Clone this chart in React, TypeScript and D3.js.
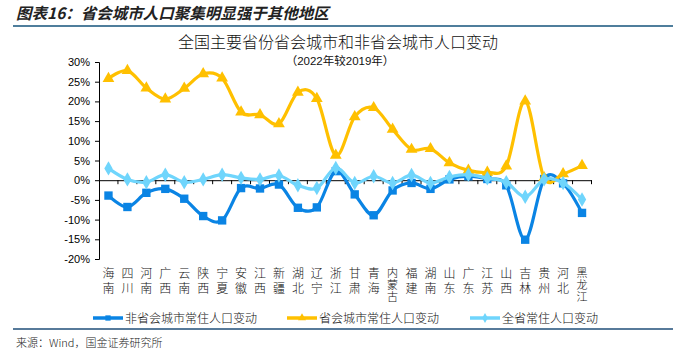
import * as d3 from 'd3';
import React, { useEffect, useRef } from 'react';

const categories = ['海南', '四川', '河南', '广西', '云南', '陕西', '宁夏', '安徽', '江西', '新疆', '湖北', '辽宁', '浙江',
  '甘肃', '青海', '内蒙古', '福建', '湖南', '山东', '广东', '江苏', '山西', '吉林', '贵州', '河北', '黑龙江'];
// 非省会城市常住人口变动 (%)
const nonCapital = [-3.9, -6.8, -3.2, -2.2, -4.7, -9.1, -10.2, -2.0, -2.1, -1.1, -7.0, -6.9, 2.3,
  -3.6, -8.9, -2.6, -0.7, -2.2, 0.2, 1.0, 0.3, -1.3, -15.1, 0.3, -0.8, -8.3];
// 省会城市常住人口变动 (%)
const capital = [25.8, 27.8, 23.4, 20.6, 23.3, 27.0, 25.9, 17.3, 16.6, 14.3, 22.3, 20.7, 6.3,
  16.1, 18.4, 12.9, 7.8, 8.0, 4.4, 2.5, 2.0, 3.6, 20.1, 0.6, 1.6, 3.7];
// 全省常住人口变动 (%)
const province = [3.0, 0.2, -0.5, 1.4, -0.5, 0.2, 1.4, 0.6, 0.2, 1.2, -1.3, -2.0, 3.1,
  -0.7, 1.0, -0.7, 1.3, -0.7, 0.8, 1.4, 0.5, -0.5, -4.2, 0.2, -0.7, -4.9];
const yTicks = [30, 25, 20, 15, 10, 5, 0, -5, -10, -15, -20];

const seriesList = [
  { name: '非省会城市常住人口变动', values: nonCapital, color: '#0A84E4', marker: 'square' },
  { name: '省会城市常住人口变动', values: capital, color: '#FFC000', marker: 'triangle' },
  { name: '全省常住人口变动', values: province, color: '#6FD5FC', marker: 'diamond' },
];

const W = 673, H = 352;
const cjk = '"Noto Sans CJK SC", sans-serif';

const App = () => {
  const ref = useRef<SVGSVGElement>(null);

  useEffect(() => {
    const svg = d3.select(ref.current);
    svg.selectAll('*').remove();

    // header
    svg.append('text').attr('x', 16).attr('y', 19)
      .attr('font-family', cjk).attr('font-size', 15.5).attr('font-weight', 'bold')
      .attr('font-style', 'italic').attr('fill', '#222')
      .text('图表16：省会城市人口聚集明显强于其他地区');
    svg.append('line').attr('x1', 13).attr('x2', W).attr('y1', 26).attr('y2', 26)
      .attr('stroke', '#4F7E9C').attr('stroke-width', 2);

    svg.append('text').attr('x', 338).attr('y', 48).attr('text-anchor', 'middle')
      .attr('font-family', cjk).attr('font-size', 16).attr('font-weight', 300).attr('fill', '#111')
      .text('全国主要省份省会城市和非省会城市人口变动');
    svg.append('text').attr('x', 340).attr('y', 65).attr('text-anchor', 'middle')
      .attr('font-family', '"Liberation Sans", ' + cjk).attr('font-size', 11.5).attr('fill', '#111')
      .text('（2022年较2019年）');

    const x = d3.scaleBand<string>().domain(categories).range([99, 591.5]);
    const y = d3.scaleLinear().domain([-20, 30]).range([259, 62]);

    // y axis
    const yAxis = svg.append('g').attr('transform', 'translate(99,0)')
      .call(d3.axisLeft(y).tickValues(yTicks).tickFormat((d: any) => d + '%').tickSize(4).tickSizeOuter(4));
    yAxis.select('.domain').attr('stroke', '#000');
    yAxis.selectAll('.tick line').attr('stroke', '#000');
    yAxis.selectAll('.tick text').attr('font-family', '"Liberation Sans", Arial, sans-serif')
      .attr('font-size', 11).attr('fill', '#000').attr('x', -9);

    // x axis at 0
    const xAxis = svg.append('g').attr('transform', `translate(0,${y(0)})`)
      .call(d3.axisBottom(x).tickSize(0).tickFormat(() => ''));
    xAxis.select('.domain').attr('stroke', '#000');
    xAxis.selectAll('.tick').remove();
    const bounds = d3.range(categories.length + 1).map(i => x.range()[0] + i * x.step());
    svg.append('g').selectAll('line').data(bounds.slice(1)).enter().append('line')
      .attr('x1', d => d).attr('x2', d => d).attr('y1', y(0)).attr('y2', y(0) + 4)
      .attr('stroke', '#000');

    // category labels, written top to bottom
    svg.append('g').selectAll('text').data(categories).enter().append('text')
      .attr('x', d => x(d)! + x.bandwidth() / 2).attr('y', 267)
      .attr('writing-mode', 'tb')
      .style('writing-mode', 'vertical-rl')
      .style('letter-spacing', d => (Array.from(d).length > 2 ? '1px' : '3px'))
      .attr('font-family', cjk).attr('font-weight', 300)
      .attr('font-size', d => (Array.from(d).length > 2 ? 11 : 12)).attr('fill', '#111')
      .text(d => d);

    const cx = (i: number) => x(categories[i])! + x.bandwidth() / 2;
    const line = d3.line<number>().x((d, i) => cx(i)).y(d => y(d)).curve(d3.curveCardinal.tension(0));

    const symbolFor = (m: string) => m === 'square' ? d3.symbolSquare : m === 'triangle' ? d3.symbolTriangle : d3.symbolDiamond;
    const sizeFor = (m: string) => m === 'square' ? 70 : 60;

    seriesList.forEach(s => {
      const g = svg.append('g');
      g.append('path').datum(s.values).attr('d', line).attr('fill', 'none')
        .attr('stroke', s.color).attr('stroke-width', 3.2);
      g.selectAll('path.m').data(s.values).enter().append('path').attr('class', 'm')
        .attr('transform', (d, i) => `translate(${cx(i)},${y(d)})`)
        .attr('d', d3.symbol().type(symbolFor(s.marker)).size(sizeFor(s.marker))())
        .attr('fill', s.color);
    });

    // legend
    const legendX = [93, 287, 470];
    seriesList.forEach((s, i) => {
      const g = svg.append('g').attr('transform', `translate(${legendX[i]},318)`);
      g.append('line').attr('x1', 0).attr('x2', 30).attr('stroke', s.color).attr('stroke-width', 3.5);
      g.append('path').attr('transform', 'translate(15,0)')
        .attr('d', d3.symbol().type(symbolFor(s.marker)).size(28)()).attr('fill', s.color);
      g.append('text').attr('x', 32).attr('y', 4.5).attr('font-family', cjk).attr('font-weight', 300)
        .attr('font-size', 12).attr('fill', '#111').text(s.name);
    });

    svg.append('line').attr('x1', 13).attr('x2', W).attr('y1', 329).attr('y2', 329)
      .attr('stroke', '#1F4E79').attr('stroke-width', 1.5);
    svg.append('text').attr('x', 16).attr('y', 347).attr('font-family', cjk).attr('font-weight', 300)
      .attr('font-size', 11).attr('fill', '#222').text('来源：Wind，国金证券研究所');
  }, []);

  return (
    <svg ref={ref} width={W} height={H} style={{ position: 'absolute', left: 0, top: 0, background: '#fff' }} />
  );
};

export default App;
